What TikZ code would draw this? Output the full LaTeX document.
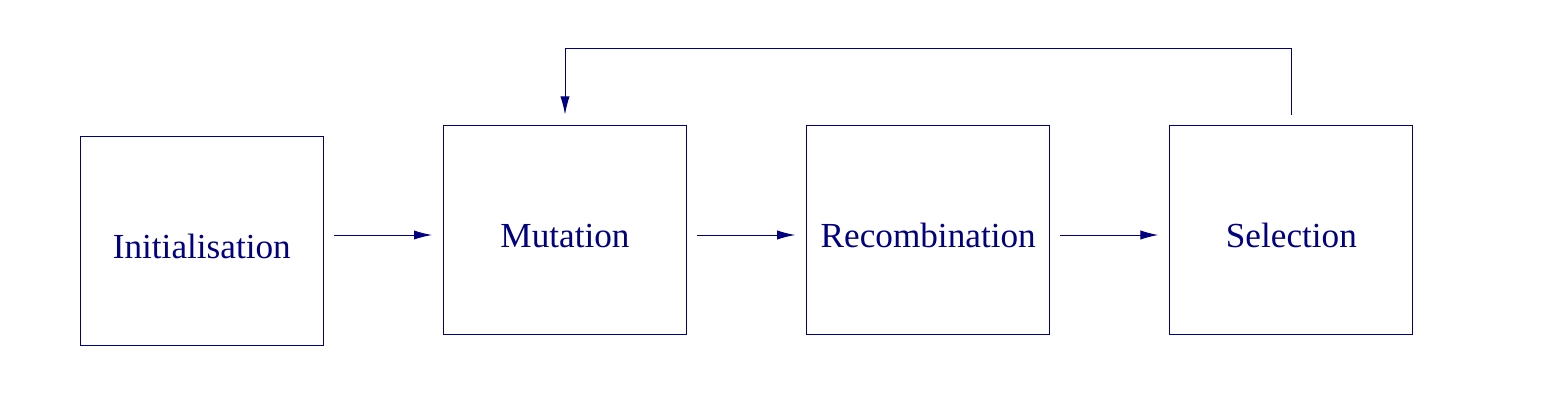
\documentclass[tikz,border=0pt]{standalone}
\usepackage{fontspec}
\setmainfont{Liberation Serif}
\usepackage{tikz}
\usetikzlibrary{positioning,arrows.meta,calc}
\definecolor{navyblue}{RGB}{0,0,128}

\begin{document}
\begin{tikzpicture}[>={Latex[length=9pt,width=4.6pt]},node distance=59.6pt,
   every node/.style={font=\fontsize{17.6}{20}\selectfont,text=navyblue},
   stage/.style={draw=navyblue,line width=0.5pt,minimum width=121.5pt,
     minimum height=104pt,inner sep=0pt,text height=17pt,text depth=0pt}]
  \useasboundingbox (0,0) rectangle (784pt,201pt);
  \node[stage] (mut) at (282.5pt,86pt) {Mutation};
  \node[stage] (init) [left=of mut,yshift=-5.5pt] {Initialisation};
  \node[stage] (rec) [right=of mut] {Recombination};
  \node[stage] (sel) [right=of rec] {Selection};
  \coordinate (lvl) at ([yshift=-2.5pt]mut.center);
  \begin{scope}[draw=navyblue,line width=0.5pt,->,shorten <=5pt,shorten >=5.5pt]
    \draw (init.east |- lvl) -- (mut.west |- lvl);
    \draw (mut.east |- lvl) -- (rec.west |- lvl);
    \draw (rec.east |- lvl) -- (sel.west |- lvl);
    \draw (sel.north) -- ++(0,38.5pt) -| (mut.north);
  \end{scope}
\end{tikzpicture}
\end{document}
